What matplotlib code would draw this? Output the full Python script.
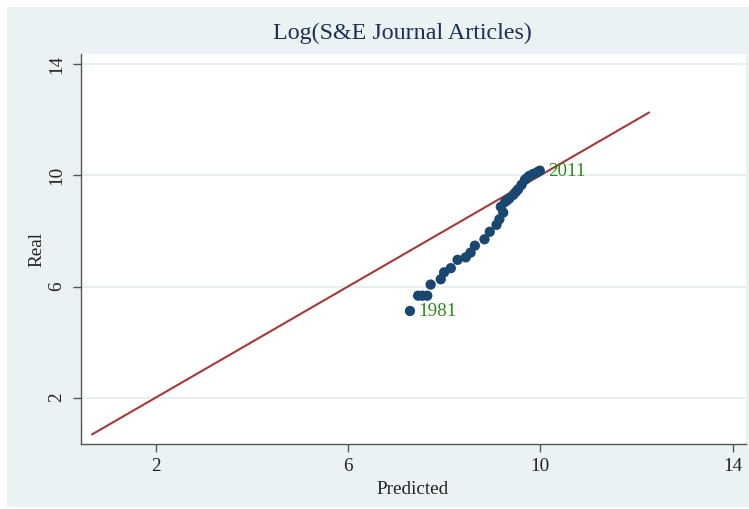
import matplotlib
matplotlib.use("Agg")
import matplotlib.pyplot as plt
from matplotlib.patches import Rectangle

# Data
predicted = [7.29, 7.46, 7.55, 7.65, 7.72, 7.93, 8.00, 8.14, 8.28, 8.45,
             8.55, 8.64, 8.84, 8.95, 9.09, 9.15, 9.23, 9.18, 9.27, 9.31,
             9.36, 9.44, 9.49, 9.54, 9.61, 9.68, 9.72, 9.77, 9.85, 9.93, 9.99]
real = [5.12, 5.67, 5.67, 5.67, 6.07, 6.26, 6.51, 6.66, 6.96, 7.05,
        7.22, 7.47, 7.70, 7.97, 8.22, 8.42, 8.66, 8.87, 9.05, 9.10,
        9.18, 9.30, 9.40, 9.50, 9.66, 9.84, 9.90, 9.98, 10.05, 10.11, 10.17]
years = list(range(1981, 2012))
line_range = [0.68, 12.26]
xticks = [2, 6, 10, 14]
yticks = [2, 6, 10, 14]
title = "Log(S&E Journal Articles)"
xlabel = "Predicted"
ylabel = "Real"

W, H = 749, 509
fig = plt.figure(figsize=(W / 100, H / 100), dpi=100)
fig.patch.set_facecolor("white")
bg = Rectangle((7 / W, 2 / H), (W - 7) / W, (507 - 7) / H,
               transform=fig.transFigure, facecolor="#eaf2f3",
               edgecolor="none", zorder=-5)
fig.patches.append(bg)

ax = fig.add_axes([80.7 / W, 1 - 444.3 / H, (745.5 - 80.7) / W, (444.3 - 54) / H])
ax.set_zorder(2)
ax.set_facecolor("white")
ax.set_xlim(0.44, 14.27)
ax.set_ylim(0.32, 14.37)

serif = "Liberation Serif"
fs = 13.8

for y in yticks:
    ax.axhline(y, color="#e3ecef", lw=1.2, zorder=1)

ax.plot(line_range, line_range, color="#a3393a", lw=1.5, zorder=2)
ax.scatter(predicted, real, s=55, color="#1a476f", edgecolors="none", zorder=3)

ax.annotate(str(years[0]), (predicted[0], real[0]), xytext=(6, -0.5),
            textcoords="offset points", va="center", ha="left",
            color="#2e8b22", fontsize=fs, family=serif, zorder=4)
ax.annotate(str(years[-1]), (predicted[-1], real[-1]), xytext=(6, -0.5),
            textcoords="offset points", va="center", ha="left",
            color="#2e8b22", fontsize=fs, family=serif, zorder=4)

ax.set_xticks(xticks)
ax.set_yticks(yticks)
ax.set_xticklabels([str(t) for t in xticks], family=serif, fontsize=fs, color="#222222")
ax.set_yticklabels([str(t) for t in yticks], family=serif, fontsize=fs, color="#222222",
                   rotation=90, va="center")
ax.tick_params(axis="both", direction="out", length=6, width=1, color="#555555")
ax.tick_params(axis="x", pad=4)
ax.tick_params(axis="y", pad=5)

for s in ["top", "right"]:
    ax.spines[s].set_visible(False)
for s in ["left", "bottom"]:
    ax.spines[s].set_color("#555555")
    ax.spines[s].set_linewidth(1)

ax.set_xlabel(xlabel, family=serif, fontsize=fs, color="#222222", labelpad=4)
ax.set_ylabel(ylabel, family=serif, fontsize=fs, color="#222222", labelpad=2)

fig.text(402 / W, 1 - 33 / H, title, ha="center", va="center",
         family=serif, fontsize=17.3, color="#1e2f55")

fig.savefig("out.png", dpi=100, facecolor=fig.get_facecolor())
